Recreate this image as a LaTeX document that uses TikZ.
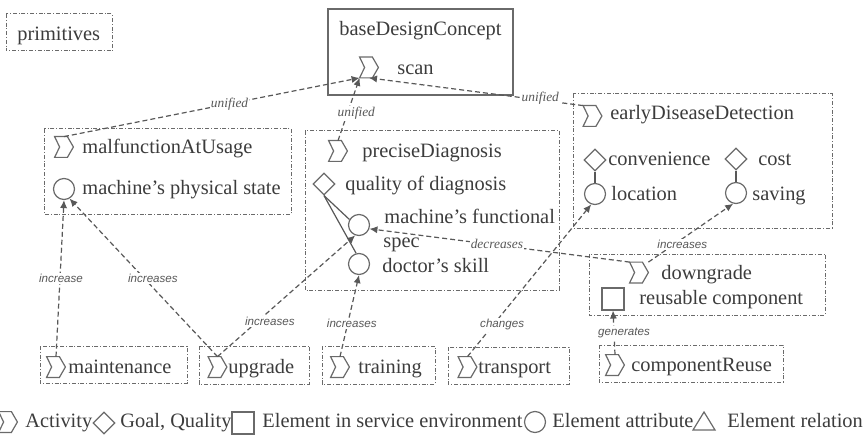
\documentclass[tikz,border=0pt]{standalone}
\usepackage{fontspec}
\setmainfont{Liberation Serif}
\newfontfamily\lblsans{Liberation Sans}
\usetikzlibrary{arrows.meta,shapes.geometric}

\definecolor{ink}{HTML}{3C3C3C}
\definecolor{edge}{HTML}{585858}
\definecolor{frame}{HTML}{6A6A6A}

\tikzset{
  txt/.style={anchor=base west, inner sep=0, text=ink, font=\fontsize{10.2}{12}\selectfont},
  grp/.style={draw=frame, line width=0.5pt, dash pattern=on 2pt off 0.9pt on 0.5pt off 0.9pt},
  icon/.style={draw=frame, line width=0.6pt},
  attr/.style={circle, icon, minimum size=10.5pt, inner sep=0},
  goal/.style={diamond, icon, minimum width=11pt, minimum height=11pt, inner sep=0},
  elem/.style={rectangle, icon, minimum size=11pt, inner sep=0},
  tie/.style={draw=edge, line width=0.6pt},
  link/.style={draw=edge, line width=0.6pt, dash pattern=on 2.5pt off 1.5pt,
               -{Latex[length=4pt,width=3.6pt]}},
  lbl/.style={fill=white, inner sep=0.6pt, text=edge,
              font=\fontsize{5.8}{6}\selectfont\lblsans\itshape},
  lbls/.style={fill=white, inner sep=0.6pt, text=edge,
               font=\fontsize{6.7}{7}\selectfont\itshape},
}

% activity chevron: name, centre x, centre y
\newcommand\actv[3]{%
  \node[inner sep=0, minimum width=9pt, minimum height=10pt] (#1) at (#2,#3) {};
  \draw[icon] (#1.north west) -- ([xshift=-3pt]#1.north east) -- (#1.east)
    -- ([xshift=-3pt]#1.south east) -- (#1.south west) -- ([xshift=2.5pt]#1.west) -- cycle;
}

\begin{document}
\begin{tikzpicture}[x=0.5pt,y=-0.5pt]
\useasboundingbox (0,0) rectangle (865,438);

% ---------- containers ----------
\draw[grp] (6,14) rectangle (112,51);
\draw[icon] (328,9) rectangle (513,95);
\draw[grp] (573,94) rectangle (832,228);
\draw[grp] (44,129) rectangle (291,214);
\draw[grp] (305,131) rectangle (559,290);
\draw[grp] (589,254) rectangle (825,315);
\draw[grp] (40,346) rectangle (187,383);
\draw[grp] (199,346) rectangle (309,384);
\draw[grp] (322,346) rectangle (435,384);
\draw[grp] (448,347) rectangle (569,384);
\draw[grp] (599,345) rectangle (783,382);

% ---------- texts ----------
\node[txt] (tPrim) at (17,41) {primitives};
\node[txt] (tBase) at (339,36) {baseDesignConcept};
\node[txt] (tScan) at (397,75) {scan};
\node[txt] (tEdd) at (610,120) {earlyDiseaseDetection};
\node[txt] (tConv) at (608,165) {convenience};
\node[txt] (tCost) at (758,165) {cost};
\node[txt] (tLoc) at (611,200) {location};
\node[txt] (tSav) at (752,200) {saving};
\node[txt] (tMau) at (82,154) {malfunctionAtUsage};
\node[txt] (tMps) at (82,194) {machine’s physical state};
\node[txt] (tPd) at (362,157) {preciseDiagnosis};
\node[txt] (tQod) at (345,191) {quality of diagnosis};
\node[txt] (tSpec) at (384,223) {machine’s functional};
\node[txt] (tSpec2) at (383,247) {spec};
\node[txt] (tDoc) at (382,272) {doctor’s skill};
\node[txt] (tDg) at (661,279) {downgrade};
\node[txt] (tRc) at (639,304) {reusable component};
\node[txt] (tMaint) at (68,373) {maintenance};
\node[txt] (tUpg) at (228,373) {upgrade};
\node[txt] (tTrn) at (358,373) {training};
\node[txt] (tTrp) at (478,373) {transport};
\node[txt] (tCr) at (631,371) {componentReuse};

% ---------- activities ----------
\actv{scanI}{369}{67.5}
\actv{mauI}{64}{147}
\actv{pdI}{338}{151}
\actv{eddI}{592.5}{116}
\actv{dgI}{639}{272.5}
\actv{maintI}{56}{367}
\actv{upgI}{217.5}{367}
\actv{trnI}{340}{367}
\actv{trpI}{467.5}{367}
\actv{crI}{615}{365}

% ---------- goals, attributes, elements ----------
\node[goal] (conv) at (595,160) {};
\node[goal] (cost) at (736,159) {};
\node[goal] (qod) at (324,184) {};
\node[attr] (loc) at (595,194) {};
\node[attr] (sav) at (736,193) {};
\node[attr] (mps) at (64,189) {};
\node[attr] (spec) at (359,225) {};
\node[attr] (doc) at (359,264) {};
\node[elem] (rc) at (613,299) {};

\draw[tie] (conv.south) -- (loc.north);
\draw[tie] (cost.south) -- (sav.north);
\draw[tie] (qod.south) -- (spec.150);
\draw[tie] (qod.south) -- (doc.105);

% ---------- relations ----------
\draw[link] (mauI.north) -- node[lbls, pos=0.56] {unified} (scanI.south west);
\draw[link] (pdI.north) -- node[lbls, pos=0.43, xshift=4.5pt] {unified} (scanI.south west);
\draw[link] (eddI.north west) -- node[lbls, pos=0.2, yshift=1pt] {unified} (scanI.south);
\draw[link] (maintI.north) -- node[lbl, pos=0.5, xshift=0.5pt] {increase} (mps.south);
\draw[link] (upgI.north) -- node[lbl, pos=0.45, yshift=3.5pt, xshift=1pt] {increases} (mps.-60);
\draw[link] (upgI.north) -- node[lbl, pos=0.38, yshift=-5.5pt] {increases} (spec.-110);
\draw[link] (trnI.north) -- node[lbl, pos=0.41, xshift=2pt] {increases} (doc.south);
\draw[link] (dgI.north west) -- node[lbls, pos=0.51, yshift=0.5pt] {decreases} (spec.-20);
\draw[link] (dgI.north east) -- node[lbl, pos=0.4, yshift=-3pt] {increases} (sav.-105);
\draw[link] (trpI.north) -- node[lbl, pos=0.28, yshift=-5.5pt] {changes} (loc.-110);
\draw[link] (crI.north) -- node[lbl, pos=0.5, xshift=5pt] {generates} (rc.south);

% ---------- legend ----------
\actv{legAct}{8}{422}
\node[txt] (legActT) at (25,427) {Activity};
\node[goal] (legGoal) at (104,423) {};
\node[txt] (legGoalT) at (120,427) {Goal, Quality};
\node[elem] (legElem) at (243,423) {};
\node[txt] (legElemT) at (262,427) {Element in service environment};
\node[attr] (legAttr) at (535,422) {};
\node[txt] (legAttrT) at (552,427) {Element attribute};
\draw[icon] (693,430) -- (715,430) -- (704,412) -- cycle;
\node[txt] (legRelT) at (727,427) {Element relation};
\end{tikzpicture}
\end{document}
